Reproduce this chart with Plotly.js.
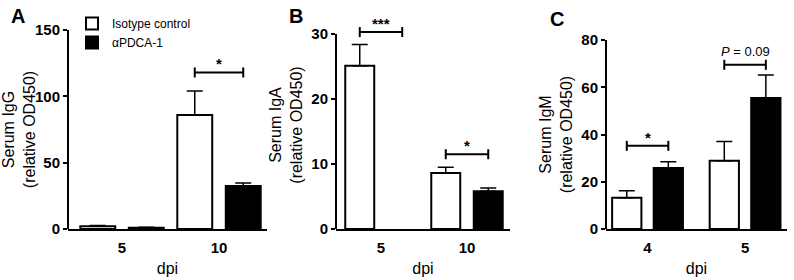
<!DOCTYPE html>
<html>
<head>
<meta charset="utf-8">
<script src="https://cdn.plot.ly/plotly-3.0.1.min.js"></script>
<style>html,body{margin:0;padding:0;background:#fff}#chart{width:794px;height:280px}</style>
</head>
<body>
<div id="chart"></div>
<script>
// ---- Data ----
const seriesNames = ['Isotype control', 'αPDCA-1'];

// Panel A: Serum IgG
const dpiA = ['5', '10'];
const isoA = [2, 86];
const isoAErr = [0.6, 18];
const pdcA = [1, 32.5];
const pdcAErr = [0.4, 2.2];
const yTicksA = [0, 50, 100, 150];

// Panel B: Serum IgA
const dpiB = ['5', '10'];
const isoB = [25.1, 8.6];
const isoBErr = [3.3, 0.9];
const pdcB = [null, 5.8];
const pdcBErr = [0, 0.5];
const yTicksB = [0, 10, 20, 30];

// Panel C: Serum IgM
const dpiC = ['4', '5'];
const isoC = [13.2, 28.9];
const isoCErr = [3.0, 8.1];
const pdcC = [25.8, 55.4];
const pdcCErr = [2.7, 9.8];
const yTicksC = [0, 20, 40, 60, 80];

// Significance brackets: panel, group index, y value, label
const bracketPanel = ['A', 'B', 'B', 'C', 'C'];
const bracketGroup = [1, 0, 1, 0, 1];
const bracketY = [118, 30.3, 11.5, 35.2, 69.5];
const bracketLabel = ['*', '***', '*', '*', '<i>P</i> = 0.09'];

const yTitles = ['Serum IgG<br>(relative OD450)', 'Serum IgA<br>(relative OD450)', 'Serum IgM<br>(relative OD450)'];
const panelLetters = ['A', 'B', 'C'];

// ---- Styles ----
const FONT = 'Liberation Sans, Arial, Helvetica, sans-serif';
const panels = {
  A: {xa: 'x', ya: 'y', cats: dpiA, iso: isoA, isoE: isoAErr, pdc: pdcA, pdcE: pdcAErr, half: 0.25, w: 0.36, ticks: yTicksA},
  B: {xa: 'x2', ya: 'y2', cats: dpiB, iso: isoB, isoE: isoBErr, pdc: pdcB, pdcE: pdcBErr, half: 0.247, w: 0.337, ticks: yTicksB},
  C: {xa: 'x3', ya: 'y3', cats: dpiC, iso: isoC, isoE: isoCErr, pdc: pdcC, pdcE: pdcCErr, half: 0.213, w: 0.30, ticks: yTicksC}
};

const traces = [];
['A', 'B', 'C'].forEach((k, i) => {
  const p = panels[k];
  const zeros = p.cats.map(() => 0);
  traces.push({
    type: 'bar', name: seriesNames[0], x: p.cats, y: p.iso,
    xaxis: p.xa, yaxis: p.ya, width: p.w, offset: -p.half - p.w / 2,
    marker: {color: '#ffffff', line: {color: '#000', width: 2}},
    error_y: {type: 'data', array: p.isoE, arrayminus: zeros, symmetric: false, color: '#000', thickness: 1.5, width: 8},
    showlegend: i === 0, legendgroup: 'iso', hoverinfo: 'skip'
  });
  traces.push({
    type: 'bar', name: seriesNames[1], x: p.cats, y: p.pdc,
    xaxis: p.xa, yaxis: p.ya, width: p.w, offset: p.half - p.w / 2,
    marker: {color: '#000000', line: {color: '#000', width: 2}},
    error_y: {type: 'data', array: p.pdcE, arrayminus: zeros, symmetric: false, color: '#000', thickness: 1.5, width: 8},
    showlegend: i === 0, legendgroup: 'pdc', hoverinfo: 'skip'
  });
});

const shapes = [];
const annotations = [];

// y axis lines drawn from 0 to the top tick value
['A', 'B', 'C'].forEach(k => {
  const p = panels[k];
  shapes.push({type: 'line', xref: p.xa + ' domain', yref: p.ya, x0: 0, x1: 0, y0: 0, y1: p.ticks[p.ticks.length - 1],
    line: {color: '#000', width: 2}, layer: 'above'});
});

bracketPanel.forEach((k, i) => {
  const p = panels[k];
  const g = bracketGroup[i];
  const x0 = g - p.half, x1 = g + p.half, yv = bracketY[i];
  const common = {type: 'line', xref: p.xa, yref: p.ya, line: {color: '#000', width: 2}};
  shapes.push(Object.assign({}, common, {x0: x0, x1: x1, y0: yv, y1: yv}));
  shapes.push(Object.assign({}, common, {x0: x0, x1: x0, ysizemode: 'pixel', yanchor: yv, y0: -5, y1: 5}));
  shapes.push(Object.assign({}, common, {x0: x1, x1: x1, ysizemode: 'pixel', yanchor: yv, y0: -5, y1: 5}));
  const isP = bracketLabel[i].indexOf('P') >= 0;
  annotations.push({
    xref: p.xa, yref: p.ya, x: g, y: yv, text: isP ? bracketLabel[i] : '<b>' + bracketLabel[i] + '</b>', showarrow: false,
    yanchor: 'bottom', yshift: isP ? 4 : -2,
    font: {family: FONT, size: isP ? 13 : 15, color: '#000'}
  });
});

// panel letters
const letterPos = [[18, 16], [296, 16], [557, 19]];
panelLetters.forEach((t, i) => {
  annotations.push({
    xref: 'paper', yref: 'paper', x: letterPos[i][0] / 794, y: 1 - letterPos[i][1] / 280,
    text: '<b>' + t + '</b>', showarrow: false, xanchor: 'center', yanchor: 'middle',
    font: {family: FONT, size: 20, color: '#000'}
  });
});

const tickFont = {family: FONT, size: 15, color: '#000'};

function xAxis(dom, range, cats, anchor) {
  return {
    domain: dom, type: 'category', range: range, anchor: anchor, showline: true, linewidth: 2, linecolor: '#000',
    ticks: '', showgrid: false, zeroline: false, fixedrange: true,
    tickmode: 'array', tickvals: cats, ticktext: cats.map(c => '<b>' + c + '</b>'),
    tickfont: tickFont, ticklabelstandoff: 4,
    title: {text: 'dpi', font: {family: FONT, size: 16, color: '#000'}, standoff: 8}
  };
}
function yAxis(dom, range, tv, title, anchor) {
  return {
    domain: dom, range: range, anchor: anchor,
    tickmode: 'array', tickvals: tv, ticktext: tv.map(v => '<b>' + v + '</b>'),
    showline: false, ticks: 'outside', ticklen: 4, tickwidth: 2, tickcolor: '#000',
    showgrid: false, zeroline: false, fixedrange: true,
    tickfont: tickFont,
    title: {text: title, font: {family: FONT, size: 16, color: '#000'}, standoff: 4}
  };
}

// pixel geometry: zero line at y=229
const y0d = (280 - 229) / 280;
const pxPerUnitB = (229 - 34) / yTicksB[3];
const topB = 229 - 32 * pxPerUnitB;

const layout = {
  width: 794, height: 280,
  margin: {l: 0, r: 0, t: 0, b: 0},
  paper_bgcolor: '#fff', plot_bgcolor: 'rgba(0,0,0,0)',
  barmode: 'group',
  font: {family: FONT, color: '#000'},
  xaxis: xAxis([68 / 794, 267 / 794], [-0.557, 1.495], dpiA, 'y'),
  yaxis: yAxis([y0d, 250 / 280], [0, 150], yTicksA, yTitles[0], 'x'),
  xaxis2: xAxis([336 / 794, 510 / 794], [-0.523, 1.5], dpiB, 'y2'),
  yaxis2: yAxis([y0d, (280 - topB) / 280], [0, 32], yTicksB, yTitles[1], 'x2'),
  xaxis3: xAxis([606 / 794, 787 / 794], [-0.426, 1.43], dpiC, 'y3'),
  yaxis3: yAxis([y0d, 240 / 280], [0, 80], yTicksC, yTitles[2], 'x3'),
  legend: {
    x: 72 / 794, y: 1 - 9 / 280, xanchor: 'left', yanchor: 'top',
    bgcolor: 'rgba(0,0,0,0)', borderwidth: 0, traceorder: 'normal',
    font: {family: FONT, size: 12, color: '#000'}, tracegroupgap: 0
  },
  shapes: shapes,
  annotations: annotations
};

Plotly.newPlot('chart', traces, layout, {displayModeBar: false, staticPlot: true});
</script>
</body>
</html>
